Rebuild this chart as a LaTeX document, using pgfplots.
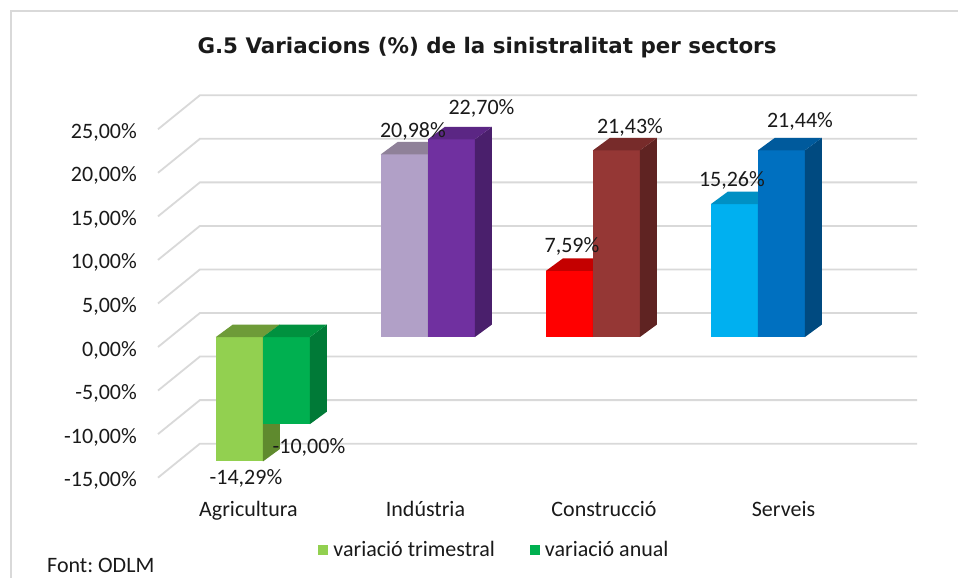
\documentclass[border=0pt]{standalone}
\usepackage{pgfplots}
\pgfplotsset{compat=1.18}
\usepackage{pgfplotstable}
\usepackage{fontspec}
\setmainfont{Carlito}
\newfontfamily\titlefont{DejaVu Sans}
\newcommand\fs{\fontsize{22}{26}\selectfont}
\frenchspacing

\definecolor{agT}{HTML}{92D050}\definecolor{agTs}{HTML}{5F8A2E}\definecolor{agTt}{HTML}{6E9B38}
\definecolor{agA}{HTML}{00B050}\definecolor{agAs}{HTML}{007A37}\definecolor{agAt}{HTML}{00913F}
\definecolor{inT}{HTML}{B1A0C7}\definecolor{inTs}{HTML}{7E718F}\definecolor{inTt}{HTML}{8F8199}
\definecolor{inA}{HTML}{7030A0}\definecolor{inAs}{HTML}{4A1F6C}\definecolor{inAt}{HTML}{5B2684}
\definecolor{coT}{HTML}{FF0000}\definecolor{coTs}{HTML}{A80000}\definecolor{coTt}{HTML}{C40000}
\definecolor{coA}{HTML}{953735}\definecolor{coAs}{HTML}{5F2322}\definecolor{coAt}{HTML}{772B2A}
\definecolor{seT}{HTML}{00B0F0}\definecolor{seTs}{HTML}{0077A3}\definecolor{seTt}{HTML}{0090C4}
\definecolor{seA}{HTML}{0070C0}\definecolor{seAs}{HTML}{004A80}\definecolor{seAt}{HTML}{005A9C}
\definecolor{gridc}{HTML}{D9D9D9}
\definecolor{txt}{HTML}{1A1A1A}

% x: category index; trim = variacio trimestral, anual = variacio anual;
% tdx,tdy / adx,ady: label offsets (pt)
\pgfplotstableread{
x  trim    anual   tdx   tdy    adx   ady
0  -14.29  -10.00  6.5   -23.5  22.5  -29
1  20.98   22.70   8.5   16.3   30    24.3
2  7.59    21.43   2.5   17.9   13.5  17.3
3  15.26   21.44   -2.5  17.1   18.5  22.3
}\data

\pgfplotstablegetelem{0}{trim}\of\data\edef\vAT{\pgfplotsretval}
\pgfplotstablegetelem{0}{anual}\of\data\edef\vAA{\pgfplotsretval}
\pgfplotstablegetelem{1}{trim}\of\data\edef\vIT{\pgfplotsretval}
\pgfplotstablegetelem{1}{anual}\of\data\edef\vIA{\pgfplotsretval}
\pgfplotstablegetelem{2}{trim}\of\data\edef\vCT{\pgfplotsretval}
\pgfplotstablegetelem{2}{anual}\of\data\edef\vCA{\pgfplotsretval}
\pgfplotstablegetelem{3}{trim}\of\data\edef\vST{\pgfplotsretval}
\pgfplotstablegetelem{3}{anual}\of\data\edef\vSA{\pgfplotsretval}

\def\dx{0.103}\def\dy{1.435}\def\bw{0.285}
% side face: #1 right edge, #2 value, #3 colour
\newcommand\sideface[3]{\fill[#3] (axis cs:#1,0) -- (axis cs:{#1+\dx},\dy) -- (axis cs:{#1+\dx},{#2+\dy}) -- (axis cs:#1,#2) -- cycle;}
% top face: #1 left, #2 right, #3 level, #4 colour
\newcommand\topface[4]{\fill[#4] (axis cs:#1,#3) -- (axis cs:{#1+\dx},{#3+\dy}) -- (axis cs:{#2+\dx},{#3+\dy}) -- (axis cs:#2,#3) -- cycle;}

\begin{document}
\begin{tikzpicture}
\useasboundingbox (0,0) rectangle (958pt,-578pt);
\fill[white] (0,0) rectangle (958pt,-578pt);
\draw[gridc, line width=1.6pt] (11pt,-578pt) -- (11pt,-11pt) -- (958pt,-11pt);
\node[font=\titlefont\bfseries\fontsize{21.4}{25}\selectfont, anchor=base, text=txt] at (487pt,-53pt)
  {G.5 Variacions (\%) de la sinistralitat per sectors};
\node[font=\fs, anchor=base west, inner sep=0pt, text=txt] at (47pt,-572.5pt) {Font: ODLM};

\begin{axis}[
  at={(158pt,-467.65pt)}, anchor=south west,
  scale only axis, width=759pt, height=348.4pt,
  xmin=-0.636, xmax=3.964, ymin=-15, ymax=25,
  clip=false,
  axis line style={draw=none}, tick style={draw=none},
  ytick={-15,-10,-5,0,5,10,15,20,25},
  yticklabels={{-15,00\%},{-10,00\%},{-5,00\%},{0,00\%},{5,00\%},{10,00\%},{15,00\%},{20,00\%},{25,00\%}},
  yticklabel style={font=\fs, text=txt, anchor=base east, inner sep=0pt, xshift=-21pt, yshift=-19pt},
  xtick={-0.088,0.985,2.067,3.155},
  xticklabels={Agricultura,Indústria,Construcció,Serveis},
  xticklabel style={font=\fs, text=txt, anchor=base, inner sep=0pt, yshift=-49.3pt},
  legend style={at={(0.442,-0.236)}, anchor=center, draw=none, fill=none, font=\fs, text=txt,
    legend columns=2, nodes={inner sep=0pt},
    /tikz/every odd column/.append style={column sep=5pt},
    /tikz/every even column/.append style={column sep=35pt}},
  legend image code/.code={\fill[#1] (0pt,-5pt) rectangle (10pt,5pt);},
]
% back wall and floor grid lines
\pgfplotsinvokeforeach{-15,-10,-5,0,5,10,15,20,25}{
  \draw[gridc, line width=1.8pt] (axis cs:-0.636,{#1-1.148}) -- (axis cs:-0.382,{#1+2.755}) -- (axis cs:3.964,{#1+2.755});
}
% Agricultura
\addplot[forget plot, ybar, bar width=\bw, bar shift=-0.1425, fill=agT, draw=none, restrict x to domain=-0.5:0.5] table[x=x,y=trim]{\data};
\sideface{0}{\vAT}{agTs}\topface{-0.285}{0}{0}{agTt}
\addplot[forget plot, ybar, bar width=\bw, bar shift=0.1425, fill=agA, draw=none, restrict x to domain=-0.5:0.5] table[x=x,y=anual]{\data};
\sideface{0.285}{\vAA}{agAs}\topface{0}{0.285}{0}{agAt}
% Industria
\addplot[forget plot, ybar, bar width=\bw, bar shift=-0.1425, fill=inT, draw=none, restrict x to domain=0.5:1.5] table[x=x,y=trim]{\data};
\sideface{1}{\vIT}{inTs}\topface{0.715}{1}{\vIT}{inTt}
\addplot[forget plot, ybar, bar width=\bw, bar shift=0.1425, fill=inA, draw=none, restrict x to domain=0.5:1.5] table[x=x,y=anual]{\data};
\sideface{1.285}{\vIA}{inAs}\topface{1}{1.285}{\vIA}{inAt}
% Construccio
\addplot[forget plot, ybar, bar width=\bw, bar shift=-0.1425, fill=coT, draw=none, restrict x to domain=1.5:2.5] table[x=x,y=trim]{\data};
\sideface{2}{\vCT}{coTs}\topface{1.715}{2}{\vCT}{coTt}
\addplot[forget plot, ybar, bar width=\bw, bar shift=0.1425, fill=coA, draw=none, restrict x to domain=1.5:2.5] table[x=x,y=anual]{\data};
\sideface{2.285}{\vCA}{coAs}\topface{2}{2.285}{\vCA}{coAt}
% Serveis
\addplot[forget plot, ybar, bar width=\bw, bar shift=-0.1425, fill=seT, draw=none, restrict x to domain=2.5:3.5] table[x=x,y=trim]{\data};
\sideface{3}{\vST}{seTs}\topface{2.715}{3}{\vST}{seTt}
\addplot[forget plot, ybar, bar width=\bw, bar shift=0.1425, fill=seA, draw=none, restrict x to domain=2.5:3.5] table[x=x,y=anual]{\data};
\sideface{3.285}{\vSA}{seAs}\topface{3}{3.285}{\vSA}{seAt}

% data labels
\addplot[forget plot, draw=none, mark=none, point meta=y,
  visualization depends on={\thisrow{tdx} \as \ldx},
  visualization depends on={\thisrow{tdy} \as \ldy},
  nodes near coords={\pgfmathprintnumber[fixed,fixed zerofill,precision=2,use comma,assume math mode=true]{\pgfplotspointmeta}\%},
  every node near coord/.append style={font=\fs, text=txt, anchor=base, inner sep=0pt, xshift=\ldx pt, yshift=\ldy pt}]
  table[x expr=\thisrow{x}-0.1425, y=trim]{\data};
\addplot[forget plot, draw=none, mark=none, point meta=y,
  visualization depends on={\thisrow{adx} \as \ldx},
  visualization depends on={\thisrow{ady} \as \ldy},
  nodes near coords={\pgfmathprintnumber[fixed,fixed zerofill,precision=2,use comma,assume math mode=true]{\pgfplotspointmeta}\%},
  every node near coord/.append style={font=\fs, text=txt, anchor=base, inner sep=0pt, xshift=\ldx pt, yshift=\ldy pt}]
  table[x expr=\thisrow{x}+0.1425, y=anual]{\data};

\addlegendimage{fill=agT, draw=none}
\addlegendentry{variació trimestral}
\addlegendimage{fill=agA, draw=none}
\addlegendentry{variació anual}
\end{axis}
\end{tikzpicture}
\end{document}
